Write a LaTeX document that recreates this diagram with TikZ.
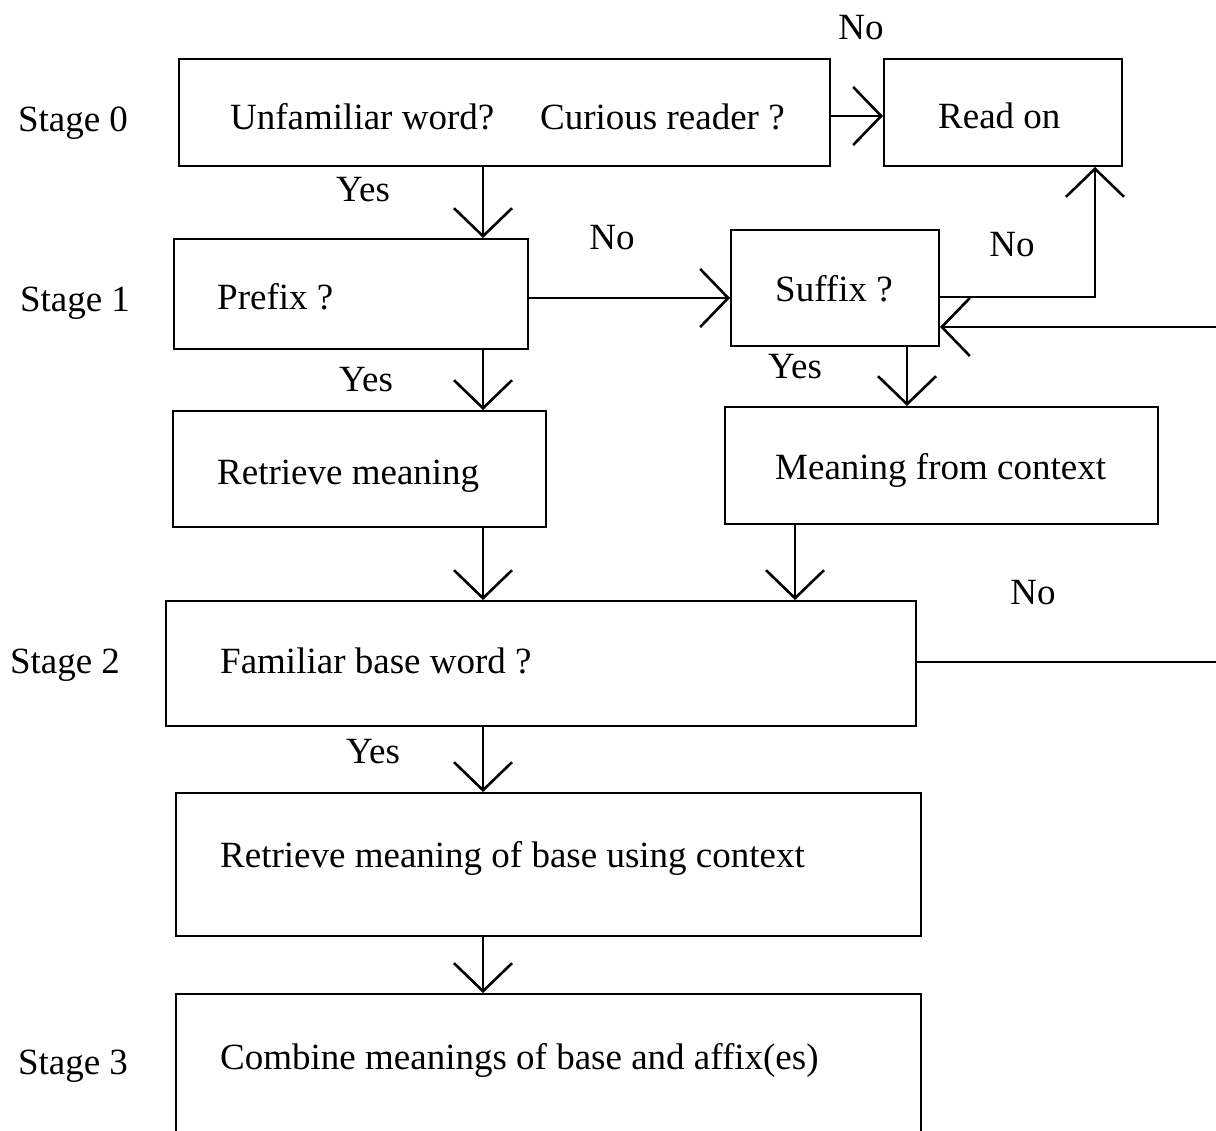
\documentclass[tikz,border=0pt]{standalone}
\usepackage{fontspec}
\setmainfont{Liberation Serif}
\usetikzlibrary{arrows.meta}
\tikzset{
  box/.style={draw, line width=2pt, inner sep=0pt, anchor=north west},
  txt/.style={inner sep=0pt, anchor=west, yshift=-9pt, text height=0.68em, text depth=0.2em, font=\fontsize{37}{40}\selectfont},
  lbl/.style={inner sep=0pt, anchor=center, yshift=-9pt, text height=0.68em, text depth=0.2em, font=\fontsize{37}{40}\selectfont},
  conn/.style={line width=2pt},
  arr/.style={line width=2pt, -{Straight Barb[length=28pt,width=58pt,line width=2.6pt]}}
}
\begin{document}
\begin{tikzpicture}[x=1pt,y=-1pt]
\clip (0,0) rectangle (1216,1131);
\fill[white] (0,0) rectangle (1216,1131);
% boxes
\node[box, minimum width=651pt, minimum height=107pt] (b0) at (178,58) {};
\node[box, minimum width=238pt, minimum height=107pt] (readon) at (883,58) {};
\node[box, minimum width=354pt, minimum height=110pt] (prefix) at (173,238) {};
\node[box, minimum width=208pt, minimum height=116pt] (suffix) at (730,229) {};
\node[box, minimum width=373pt, minimum height=116pt] (retr) at (172,410) {};
\node[box, minimum width=433pt, minimum height=117pt] (ctx) at (724,406) {};
\node[box, minimum width=750pt, minimum height=125pt] (fam) at (165,600) {};
\node[box, minimum width=745pt, minimum height=143pt] (base) at (175,792) {};
\node[box, minimum width=745pt, minimum height=220pt] (comb) at (175,993) {};
% box texts
\node[txt] (t0a) at (230,118) {Unfamiliar word?};
\node[txt] (t0b) at (540,118) {Curious reader ?};
\node[txt] (tro) at (938,117) {Read on};
\node[txt] (tpre) at (217,298) {Prefix ?};
\node[txt] (tsuf) at (775,290) {Suffix ?};
\node[txt] (tretr) at (217,473) {Retrieve meaning};
\node[txt] (tctx) at (775,468) {Meaning from context};
\node[txt] (tfam) at (220,662) {Familiar base word ?};
\node[txt] (tbase) at (220,856) {Retrieve meaning of base using context};
\node[txt] (tcomb) at (220,1058) {Combine meanings of base and affix(es)};
% stage labels
\node[lbl] (s0) at (73,120) {Stage 0};
\node[lbl] (s1) at (75,300) {Stage 1};
\node[lbl] (s2) at (65,662) {Stage 2};
\node[lbl] (s3) at (73,1063) {Stage 3};
% connector labels
\node[lbl] (n0) at (861,28) {No};
\node[lbl] (y0) at (363,190) {Yes};
\node[lbl] (n1) at (612,238) {No};
\node[lbl] (n2) at (1012,245) {No};
\node[lbl] (y1) at (366,380) {Yes};
\node[lbl] (y2) at (795,367) {Yes};
\node[lbl] (n3) at (1033,593) {No};
\node[lbl] (y3) at (373,752) {Yes};
% helper coordinates
\coordinate (xa) at (483,0);
\coordinate (xs) at (907,0);
\coordinate (xc) at (795,0);
\coordinate (xr) at (1095,0);
\coordinate (y0l) at (0,116);
\coordinate (y1l) at (0,298);
\coordinate (y2l) at (0,297);
\coordinate (y3l) at (0,327);
\coordinate (y4l) at (0,662);
\coordinate (offA) at (1218,327);
\coordinate (offB) at (1218,662);
% connectors
\draw[arr] (b0.east |- y0l) -- (readon.west |- y0l);
\draw[arr] (b0.south -| xa) -- (prefix.north -| xa);
\draw[arr] (prefix.east |- y1l) -- (suffix.west |- y1l);
\draw[arr] (suffix.east |- y2l) -| (readon.south -| xr);
\draw[arr] (offA) -- (suffix.east |- y3l);
\draw[conn] (fam.east |- y4l) -- (offB);
\draw[arr] (prefix.south -| xa) -- (retr.north -| xa);
\draw[arr] (suffix.south -| xs) -- (ctx.north -| xs);
\draw[arr] (retr.south -| xa) -- (fam.north -| xa);
\draw[arr] (ctx.south -| xc) -- (fam.north -| xc);
\draw[arr] (fam.south -| xa) -- (base.north -| xa);
\draw[arr] (base.south -| xa) -- (comb.north -| xa);
\end{tikzpicture}
\end{document}
